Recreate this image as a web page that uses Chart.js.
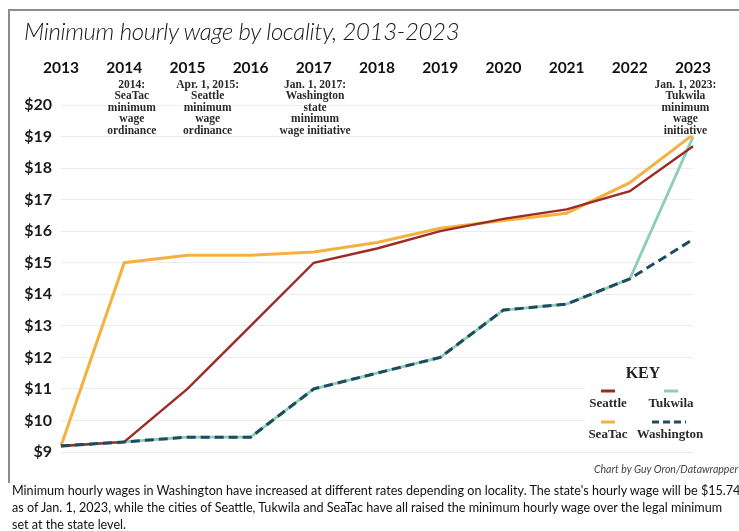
<!DOCTYPE html>
<html>
<head>
<meta charset="utf-8">
<script src="https://cdn.jsdelivr.net/npm/chart.js@4.4.1/dist/chart.umd.min.js"></script>
<style>
  html, body { margin: 0; padding: 0; background: #fff; }
  #wrap { position: relative; width: 739px; height: 531px; overflow: hidden; }
  #frame { position: absolute; left: 8px; top: 9px; width: 740px; height: 472px;
           border-left: 2px solid #8c8c8c; border-top: 2px solid #8c8c8c; }
  #title { position: absolute; left: 24px; top: 16px; font: italic 300 24px Lato, sans-serif;
           color: #161616; white-space: nowrap; letter-spacing: -0.35px; }
  #box { position: absolute; left: 0; top: 0; width: 739px; height: 531px; }
  #credit { position: absolute; right: 1px; top: 463px; font: italic 10.5px Lato, sans-serif; color: #444; }
  #caption { position: absolute; left: 12px; top: 482px; width: 727px; font: 12.6px/17px Lato, sans-serif;
             color: #111; white-space: nowrap; overflow: hidden; }
</style>
</head>
<body>
<div id="wrap">
  <div id="frame"></div>
  <div id="box"><canvas id="c"></canvas></div>
  <div id="title">Minimum hourly wage by locality, 2013-2023</div>
  <div id="credit">Chart by Guy Oron/Datawrapper</div>
  <div id="caption">Minimum hourly wages in Washington have increased at different rates depending on locality. The state's hourly wage will be $15.74<br>as of Jan. 1, 2023, while the cities of Seattle, Tukwila and SeaTac have all raised the minimum hourly wage over the legal minimum<br>set at the state level.</div>
</div>
<script>
// Years on the top axis
const years = ['2013', '2014', '2015', '2016', '2017', '2018', '2019', '2020', '2021', '2022', '2023'];

// Minimum hourly wage in dollars, one value per year
const seattle    = [9.19, 9.32, 11.00, 13.00, 15.00, 15.45, 16.00, 16.39, 16.69, 17.27, 18.69];
const seatac     = [9.19, 15.00, 15.24, 15.24, 15.34, 15.64, 16.09, 16.34, 16.57, 17.54, 19.06];
const tukwila    = [9.19, 9.32, 9.47, 9.47, 11.00, 11.50, 12.00, 13.50, 13.69, 14.49, 18.99];
const washington = [9.19, 9.32, 9.47, 9.47, 11.00, 11.50, 12.00, 13.50, 13.69, 14.49, 15.74];

// Y axis range and tick labels
const wageMin = 9, wageMax = 20;
const wageTicks = ['$9', '$10', '$11', '$12', '$13', '$14', '$15', '$16', '$17', '$18', '$19', '$20'];

// Text notes about each ordinance / initiative
const noteTexts = [
  ['2014:', 'SeaTac', 'minimum', 'wage', 'ordinance'],
  ['Apr. 1, 2015:', 'Seattle', 'minimum', 'wage', 'ordinance'],
  ['Jan. 1, 2017:', 'Washington', 'state', 'minimum', 'wage initiative'],
  ['Jan. 1, 2023:', 'Tukwila', 'minimum', 'wage', 'initiative']
];
// Horizontal anchor of each note, in category units along the year axis
const noteAt = [1.12, 2.32, 4.02, 9.88];

const COLORS = { seattle: '#9c2b25', seatac: '#f4b13f', tukwila: '#8dcfb4', washington: '#1e4b62' };

// Notes above the chart and the boxed key in the lower right
const extrasPlugin = {
  id: 'extras',
  afterDraw(chart) {
    const ctx = chart.ctx;
    const xs = chart.scales.x;
    const step = xs.getPixelForValue(1) - xs.getPixelForValue(0);
    ctx.save();
    ctx.font = 'bold 11.5px "Liberation Serif", serif';
    ctx.textAlign = 'center';
    ctx.textBaseline = 'middle';
    ctx.lineJoin = 'round';
    noteTexts.forEach((lines, i) => {
      const x = xs.getPixelForValue(0) + noteAt[i] * step;
      lines.forEach((t, j) => {
        const y = 85 + j * 11.5;
        ctx.strokeStyle = '#fff';
        ctx.lineWidth = 3;
        ctx.strokeText(t, x, y);
        ctx.fillStyle = '#2a2a2a';
        ctx.fillText(t, x, y);
      });
    });

    // key
    ctx.fillStyle = '#fff';
    ctx.fillRect(585, 377, 121, 68);
    ctx.fillStyle = '#222';
    ctx.font = 'bold 16px "Liberation Serif", serif';
    ctx.fillText('KEY', 643, 374);
    const items = [
      { ds: 0, x: 608, y: 391 },
      { ds: 3, x: 671, y: 391 },
      { ds: 1, x: 608, y: 422 },
      { ds: 2, x: 670, y: 422 }
    ];
    ctx.font = 'bold 13px "Liberation Serif", serif';
    items.forEach(it => {
      const d = chart.data.datasets[it.ds];
      ctx.strokeStyle = d.borderColor;
      ctx.lineWidth = 3;
      ctx.lineCap = 'butt';
      if (d.borderDash && d.borderDash.length) {
        ctx.setLineDash([7, 4]);
        ctx.beginPath(); ctx.moveTo(it.x - 18, it.y); ctx.lineTo(it.x + 16, it.y); ctx.stroke();
        ctx.setLineDash([]);
      } else {
        ctx.beginPath(); ctx.moveTo(it.x - 7, it.y); ctx.lineTo(it.x + 7, it.y); ctx.stroke();
      }
      ctx.fillStyle = '#2a2a2a';
      ctx.fillText(d.label, it.x, it.y + 12.5);
    });
    ctx.restore();
  }
};

new Chart(document.getElementById('c'), {
  type: 'line',
  data: {
    labels: years,
    datasets: [
      { label: 'Seattle', data: seattle, borderColor: COLORS.seattle, borderWidth: 2.4, order: 1 },
      { label: 'SeaTac', data: seatac, borderColor: COLORS.seatac, borderWidth: 3, order: 2 },
      { label: 'Washington', data: washington, borderColor: COLORS.washington, borderWidth: 3,
        borderDash: [9, 5], order: 0 },
      { label: 'Tukwila', data: tukwila, borderColor: COLORS.tukwila, borderWidth: 2.8, order: 3 }
    ]
  },
  options: {
    responsive: true,
    maintainAspectRatio: false,
    animation: false,
    events: [],
    elements: { point: { radius: 0 }, line: { tension: 0, fill: false } },
    layout: { padding: { left: 0, right: 26, top: 60, bottom: 79 } },
    plugins: { legend: { display: false }, tooltip: { enabled: false } },
    scales: {
      x: {
        type: 'category',
        position: 'top',
        offset: false,
        grid: { display: false, drawTicks: false },
        border: { display: false },
        ticks: { color: '#111', font: { family: 'Lato', size: 15.5, weight: 'bold' },
                 padding: 28, maxRotation: 0, autoSkip: false },
        afterFit(s) { s.height = 45; }
      },
      y: {
        min: wageMin,
        max: wageMax,
        grid: { color: '#ececec', lineWidth: 1, drawTicks: false },
        border: { display: false },
        ticks: { stepSize: 1, color: '#1a1a1a', padding: 9,
                 font: { family: 'Lato', size: 16, weight: 'bold' },
                 callback: (v) => wageTicks[v - wageMin] },
        afterFit(s) { s.width = 61; }
      }
    }
  },
  plugins: [extrasPlugin]
});
</script>
</body>
</html>
